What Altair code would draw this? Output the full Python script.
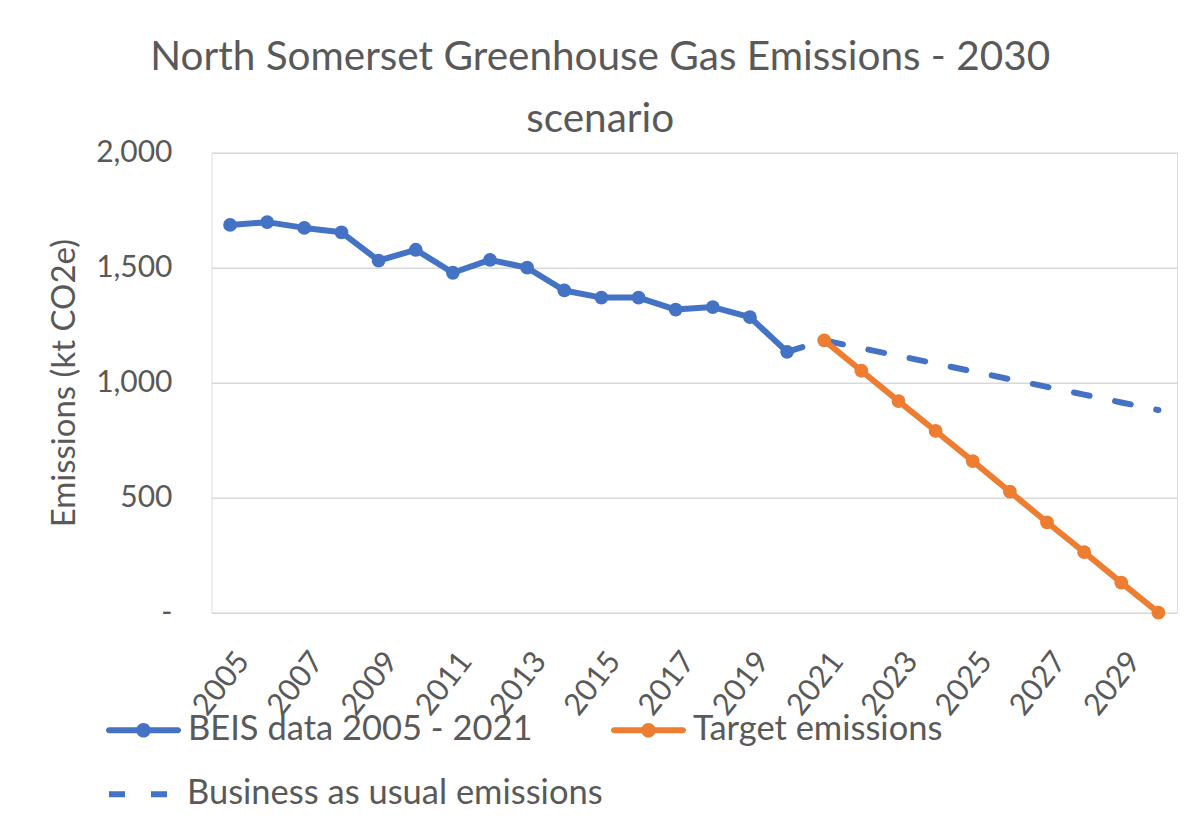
import altair as alt
import pandas as pd

# ---- data ----
beis_years = list(range(2005, 2021))
beis_values = [1686, 1698, 1673, 1654, 1531, 1578, 1478, 1534, 1500, 1401,
               1370, 1370, 1318, 1329, 1285, 1134]
target_years = list(range(2021, 2031))
target_values = [1184, 1052, 920, 790, 659, 526, 393, 263, 131, 0]
bau_years = list(range(2020, 2031))
bau_values = [1134, 1184, 1150, 1117, 1083, 1049, 1015, 982, 948, 914, 881]

series_names = ["BEIS data 2005 - 2021", "Target emissions",
                "Business as usual emissions"]
series_colors = ["#4472C4", "#ED7D31"]
y_ticks = [0, 500, 1000, 1500, 2000]
x_ticks = list(range(2005, 2030, 2))
title_lines = ["North Somerset Greenhouse Gas Emissions - 2030", "scenario"]
y_title = "Emissions (kt CO2e)"

solid = pd.DataFrame({
    "year": beis_years + target_years,
    "value": beis_values + target_values,
    "series": [series_names[0]] * len(beis_years) + [series_names[1]] * len(target_years),
})
bau = pd.DataFrame({"year": bau_years, "value": bau_values,
                    "series": [series_names[2]] * len(bau_years)})

FONT = "Lato"
GREY = "#595959"
W, H = 965.5, 460

x_enc = alt.X(
    "year:Q",
    scale=alt.Scale(domain=[2004.5, 2030.5], nice=False, zero=False),
    axis=alt.Axis(values=x_ticks, format="d", labelAngle=-52, labelAlign="right",
                  labelBaseline="middle", labelFontSize=30.5, labelColor=GREY,
                  labelFont=FONT, labelPadding=43, labelOffset=13, ticks=False,
                  tickSize=0, domain=False, grid=False, title=None,
                  labelOverlap=False, labelFlush=False),
)
y_enc = alt.Y(
    "value:Q",
    scale=alt.Scale(domain=[0, 2000], nice=False),
    axis=alt.Axis(values=y_ticks,
                  labelExpr="datum.value == 0 ? '-' : format(datum.value, ',')",
                  labelFontSize=30, labelColor=GREY, labelFont=FONT,
                  labelPadding=39.5, ticks=False, tickSize=0, domain=False,
                  gridColor="#D9D9D9", gridWidth=1.6,
                  title=y_title, titleFontSize=33, titleFont=FONT,
                  titleColor=GREY, titleFontWeight="normal",
                  titleX=-147.5, titleY=H / 2, titleBaseline="middle"),
)

LEG_PATH = ("M-0.92,-0.08H0.92A0.08,0.08,0,0,1,0.92,0.08H-0.92"
            "A0.08,0.08,0,0,1,-0.92,-0.08Z"
            "M0.195,0A0.195,0.195,0,1,1,-0.195,0A0.195,0.195,0,1,1,0.195,0Z")

bau_line = alt.Chart(bau).mark_line(
    strokeWidth=6, strokeCap="round", color=series_colors[0]
).encode(
    x=x_enc, y=y_enc,
    strokeDash=alt.StrokeDash(
        "series:N",
        scale=alt.Scale(domain=[series_names[2]], range=[[16, 26]]),
        legend=alt.Legend(orient="none", legendX=-105.5, legendY=601,
                          title=None, symbolType="stroke", symbolSize=5625,
                          symbolStrokeWidth=6, symbolStrokeColor=series_colors[0],
                          labelFontSize=34.5, labelFont=FONT, labelColor=GREY,
                          labelOffset=0, padding=0, labelLimit=0),
    ),
)

# stroke scale listed in reverse order (same mapping) so it stays separate
solid_line = alt.Chart(solid).mark_line(
    strokeWidth=6, strokeCap="round", strokeJoin="round"
).encode(
    x=x_enc, y=y_enc,
    stroke=alt.Stroke("series:N",
                      scale=alt.Scale(domain=series_names[1::-1],
                                      range=series_colors[::-1]),
                      legend=None),
)

points = alt.Chart(solid).mark_circle(size=190, opacity=1).encode(
    x=x_enc, y=y_enc,
    fill=alt.Fill(
        "series:N",
        scale=alt.Scale(domain=series_names[:2], range=series_colors),
        legend=alt.Legend(orient="none", legendX=-105.5, legendY=540,
                          direction="horizontal", columns=2, columnPadding=78,
                          title=None, symbolType=LEG_PATH, symbolSize=5625,
                          symbolStrokeWidth=0, labelFontSize=34.5, labelFont=FONT,
                          labelColor=GREY, labelOffset=7, padding=0, labelLimit=0),
    ),
)

chart = alt.layer(bau_line, solid_line, points).properties(
    width=W, height=H,
    title=alt.TitleParams(text=title_lines, fontSize=40.5, font=FONT, color=GREY,
                          fontWeight="normal", anchor="middle", dx=-94,
                          lineHeight=62, offset=-3),
    autosize=alt.AutoSizeParams(type="none"),
    padding={"left": 203.5, "top": 144.7, "right": 2, "bottom": 200},
).configure_view(stroke=None).configure(font=FONT)

chart.save("out.html", embed_options={"renderer": "svg", "actions": False})
